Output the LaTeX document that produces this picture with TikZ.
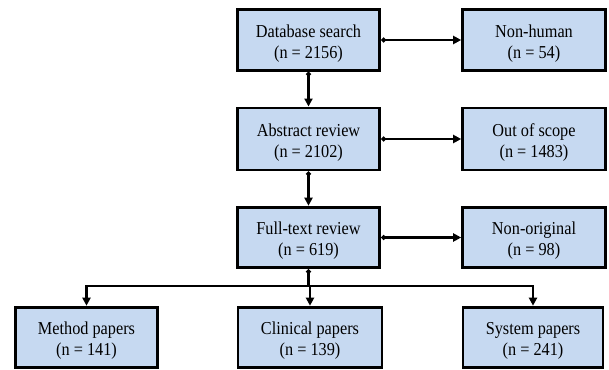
\documentclass[tikz,border=0pt]{standalone}
\usepackage{fontspec}
\usepackage{graphicx}
\setmainfont{Liberation Serif}
\usetikzlibrary{arrows.meta}
\definecolor{boxfill}{HTML}{C6D9F1}
\newcommand\twolines[2]{\rule{0pt}{14.5pt}\scalebox{1}[1.12]{#1}\\[0pt]\scalebox{1}[1.12]{#2}}
\begin{document}
\begin{tikzpicture}[x=0.75pt,y=-0.75pt,
  flowbox/.style={draw=black,line width=2.2pt,fill=boxfill,align=center,
    minimum width=107pt,minimum height=45.5pt,inner sep=2pt,
    font=\fontsize{12.2}{16}\selectfont},
  conn/.style={line width=1.6pt,{Circle[length=3.5pt]}-{Triangle[length=6pt,width=6pt]}},
  arr/.style={line width=1.6pt,-{Triangle[length=6pt,width=6pt]}}]
\useasboundingbox (0,0) rectangle (609,370);
\node[flowbox] (db) at (308.5,40) {\twolines{Database search}{(n = 2156)}};
\node[flowbox] (nh) at (534,40) {\twolines{Non-human}{(n = 54)}};
\node[flowbox,minimum height=46.5pt] (ab) at (308.5,139) {\twolines{Abstract review}{(n = 2102)}};
\node[flowbox,minimum height=46.5pt] (os) at (534,139) {\twolines{Out of scope}{(n = 1483)}};
\node[flowbox] (ft) at (308.5,237.5) {\twolines{Full-text review}{(n = 619)}};
\node[flowbox] (no) at (534,237.5) {\twolines{Non-original}{(n = 98)}};
\node[flowbox] (mp) at (86.5,337.5) {\twolines{Method papers}{(n = 141)}};
\node[flowbox,minimum width=108pt] (cp) at (310,337.5) {\twolines{Clinical papers}{(n = 139)}};
\node[flowbox,minimum width=105pt] (sp) at (533,337.5) {\twolines{System papers}{(n = 241)}};
\coordinate (bus) at (308.5,286);
\draw[conn] (db.east) -- (nh.west);
\draw[conn] (ab.east) -- (os.west);
\draw[conn] (ft.east) -- (no.west);
\draw[conn] (db.south) -- (ab.north);
\draw[conn] (ab.south) -- (ft.north);
\draw[conn] (ft.south) -- (bus) -- (bus -| cp.north) -- (cp.north);
\draw[arr] (bus) -| (mp.north);
\draw[arr] (bus) -| (sp.north);
\end{tikzpicture}
\end{document}
